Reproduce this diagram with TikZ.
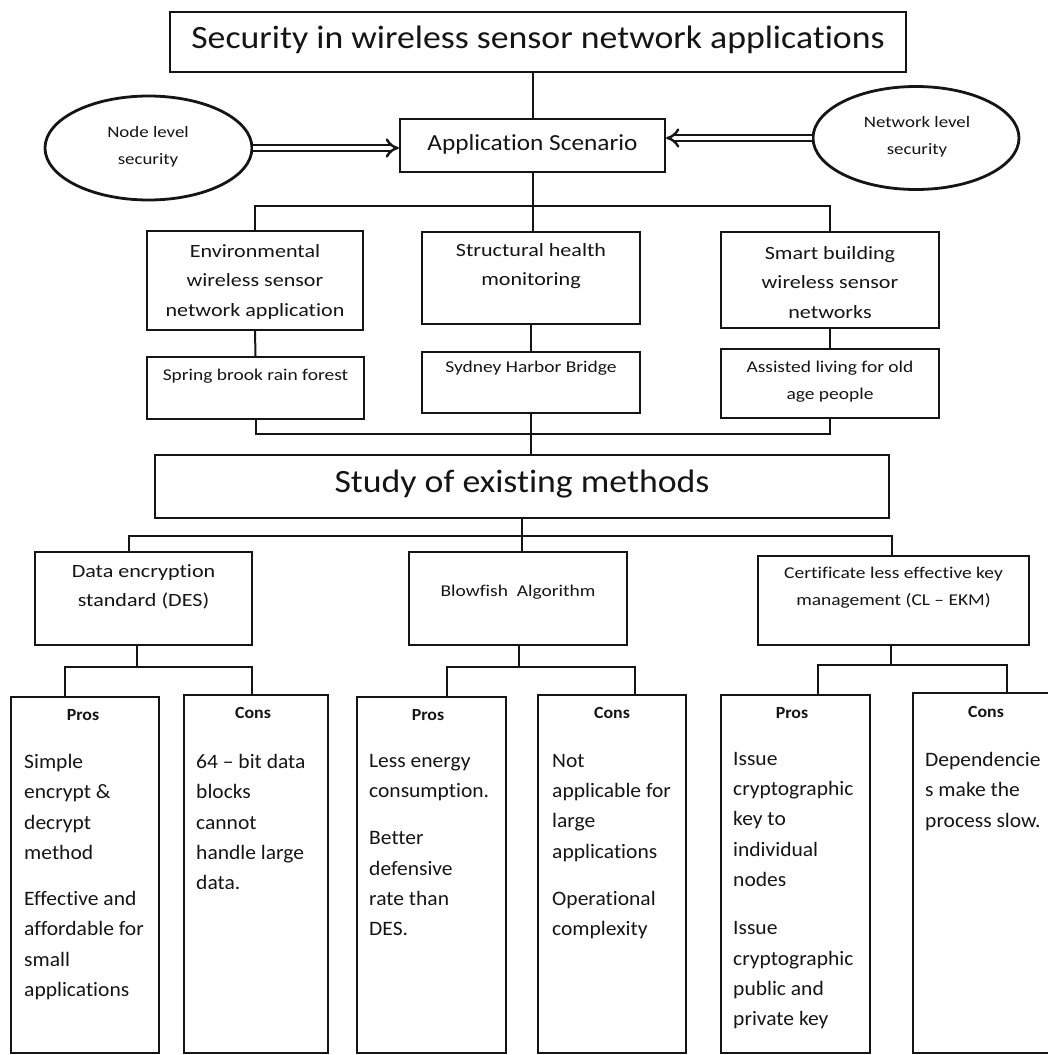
\documentclass[tikz,border=0pt]{standalone}
\usepackage{fontspec}
\setmainfont{Carlito}[Ligatures={NoCommon}]
\newfontfamily\tfont[FakeStretch=1.1,Ligatures={NoCommon}]{Carlito}
\newfontfamily\lfont[FakeStretch=1.18,Ligatures={NoCommon}]{Carlito}
\newfontfamily\bodyfam[FakeStretch=1.05,Ligatures={NoCommon}]{Carlito}
\usetikzlibrary{shapes.geometric,arrows.meta}
\definecolor{ink}{HTML}{151515}
\begin{document}
\begin{tikzpicture}[x=1pt,y=-1pt,
  box/.style={draw=ink, line width=2.2pt, inner sep=0pt, rectangle},
  conn/.style={draw=ink, line width=2pt},
  ell/.style={draw=ink, ellipse, line width=2.8pt, inner sep=0pt},
  dbl/.style={draw=ink, double, double distance=4pt, line width=2.4pt, -{Implies[scale=1.1]}},
  lab/.style={text=ink, align=center, inner sep=0pt},
  biglab/.style={lab, font=\tfont\fontsize{32.5}{39}\selectfont},
  midlab/.style={lab, font=\lfont\fontsize{18.7}{29.5}\selectfont},
  smalllab/.style={lab, font=\lfont\fontsize{16.5}{27}\selectfont},
  pclab/.style={lab, font=\bodyfam\bfseries\fontsize{17}{20}\selectfont},
  bodytxt/.style={text=ink, align=left, inner sep=0pt, anchor=north west,
     font=\bodyfam\fontsize{20.5}{30.3}\selectfont}
]
\useasboundingbox (0,0) rectangle (1048,1055);
\clip (0,0) rectangle (1048,1055);
\fill[white] (0,0) rectangle (1048,1055);

% ---------- top level ----------
\node[box, minimum width=736pt, minimum height=60pt] (title) at (538,42) {};
\node[biglab] (ttitle) at (538,40) {Security in wireless sensor network applications};

\node[box, minimum width=265pt, minimum height=53pt] (app) at (532.5,145.5) {};
\node[lab, font=\tfont\fontsize{23}{28}\selectfont] (tapp) at (532.5,144) {Application Scenario};

\node[ell, minimum width=207pt, minimum height=104pt] (nodesec) at (148.5,148) {};
\node[lab, font=\lfont\fontsize{16}{27}\selectfont] (tnodesec) at (148,147) {Node level\\security};
\node[ell, minimum width=206pt, minimum height=103pt] (netsec) at (916,138) {};
\node[lab, font=\lfont\fontsize{16}{27}\selectfont] (tnetsec) at (917,137) {Network level\\security};

\draw[conn] (app.north) -- (app.north |- title.south);
\draw[dbl] (nodesec.east) -- (nodesec.east -| app.west);
\draw[dbl] (netsec.west) -- (netsec.west -| app.east);

% ---------- application scenarios ----------
\node[box, minimum width=216pt, minimum height=99pt] (env) at (255,280.5) {};
\node[midlab] (tenv) at (255,282) {Environmental\\wireless sensor\\network application};
\node[box, minimum width=218pt, minimum height=92pt] (struct) at (531,278) {};
\node[midlab] (tstruct) at (531,266) {Structural health\\monitoring};
\node[box, minimum width=218pt, minimum height=96pt] (smart) at (830,280) {};
\node[midlab] (tsmart) at (830,282.5) {Smart building\\wireless sensor\\networks};

\node[box, minimum width=217pt, minimum height=62pt] (spring) at (255.5,388) {};
\node[smalllab] (tspring) at (255.5,376) {Spring brook rain forest};
\node[box, minimum width=218pt, minimum height=61pt] (sydney) at (531,382.5) {};
\node[smalllab] (tsydney) at (531,368) {Sydney Harbor Bridge};
\node[box, minimum width=218pt, minimum height=69pt] (assisted) at (830,383.5) {};
\node[smalllab] (tassisted) at (830,381.5) {Assisted living for old\\age people};

\coordinate (b1) at (532,206);
\draw[conn] (app.south) -- (app.south |- struct.north);
\draw[conn] (env.north) |- (b1) -| (smart.north);
\draw[conn] (env.south) -- (spring.north);
\draw[conn] (struct.south) -- (sydney.north);
\draw[conn] (smart.south) -- (assisted.north);

% ---------- study ----------
\node[box, minimum width=734pt, minimum height=63pt] (study) at (522,486.5) {};
\node[biglab] (tstudy) at (522,484) {Study of existing methods};

\coordinate (b2) at (531,434);
\draw[conn] (spring.south) |- (b2) -| (assisted.south);
\draw[conn] (sydney.south) -- (sydney.south |- study.north);

% ---------- methods ----------
\node[box, minimum width=217pt, minimum height=93pt] (des) at (143.5,598.5) {};
\node[midlab] (tdes) at (143.5,587) {Data encryption\\standard (DES)};
\node[box, minimum width=218pt, minimum height=93pt] (blow) at (518,598.5) {};
\node[smalllab] (tblow) at (518,592) {Blowfish~ Algorithm};
\node[box, minimum width=271pt, minimum height=89pt] (clekm) at (893.5,600.5) {};
\node[smalllab] (tclekm) at (893.5,588) {Certificate less effective key\\management (CL – EKM)};

\coordinate (b3) at (522,536);
\draw[conn] (study.south) -- (b3);
\draw[conn] ([xshift=-14.5pt]des.north) |- (b3) -| ([xshift=-1.5pt]clekm.north);
\draw[conn] (b3) -- (b3 |- blow.north);

% ---------- pros / cons ----------
\node[box, minimum width=148pt, minimum height=356pt] (pros1) at (85,875) {};
\node[box, minimum width=144pt, minimum height=358pt] (cons1) at (256,874) {};
\node[box, minimum width=149pt, minimum height=356pt] (pros2) at (431.5,875) {};
\node[box, minimum width=148pt, minimum height=358pt] (cons2) at (612,874) {};
\node[box, minimum width=149pt, minimum height=358pt] (pros3) at (795.5,874) {};
\node[box, minimum width=152pt, minimum height=360pt] (cons3) at (989,873) {};

\draw[conn] ([xshift=-6.5pt]des.south) -- ++(0,21) coordinate (j1);
\draw[conn] ([xshift=-20pt]pros1.north) |- (j1) -| ([xshift=-4pt]cons1.north);
\draw[conn] ([xshift=1pt]blow.south) -- ++(0,21) coordinate (j2);
\draw[conn] ([xshift=15.5pt]pros2.north) |- (j2) -| ([xshift=23pt]cons2.north);
\draw[conn] ([xshift=-3pt]clekm.south) -- ++(0,19) coordinate (j3);
\draw[conn] ([xshift=22.5pt]pros3.north) |- (j3) -| ([xshift=18pt]cons3.north);

\node[pclab] (lp1) at (83,715) {Pros};
\node[pclab] (lc1) at (253,713) {Cons};
\node[pclab] (lp2) at (428,715) {Pros};
\node[pclab] (lc2) at (612,713) {Cons};
\node[pclab] (lp3) at (792,713) {Pros};
\node[pclab] (lc3) at (986,712) {Cons};

\node[bodytxt] (tp1) at (24,754) {Simple\\encrypt \&\\decrypt\\method\\[16pt]Effective and\\affordable for\\small\\applications};
\node[bodytxt] (tc1) at (196,754) {64 – bit data\\blocks\\cannot\\handle large\\data.};
\node[bodytxt] (tp2) at (369,754) {Less energy\\consumption.\\[17pt]Better\\defensive\\rate than\\DES.};
\node[bodytxt] (tc2) at (552,754) {Not\\applicable for\\large\\applications\\[17pt]Operational\\complexity};
\node[bodytxt] (tp3) at (733,752) {Issue\\cryptographic\\key to\\individual\\nodes\\[18pt]Issue\\cryptographic\\public and\\private key};
\node[bodytxt] (tc3) at (925,752) {Dependencie\\s make the\\process slow.};
\end{tikzpicture}
\end{document}
